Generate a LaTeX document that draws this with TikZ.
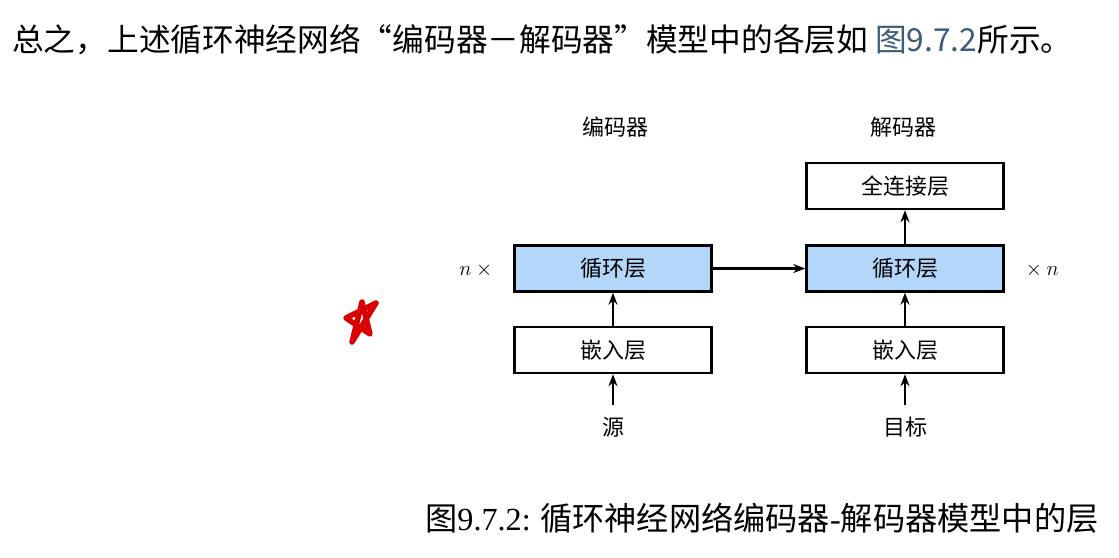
\documentclass[tikz,border=0pt]{standalone}
\usepackage{fontspec}
\setmainfont{Noto Sans CJK SC}
\newfontfamily\tnr{Liberation Serif}
\usetikzlibrary{arrows.meta}
\definecolor{boxblue}{RGB}{178,215,250}
\definecolor{linkblue}{RGB}{62,92,122}
\tikzset{
  layerbox/.style={draw=black, line width=2.4pt, minimum width=197pt, minimum height=46pt, inner sep=0pt, font=\fontsize{22}{26}\selectfont},
  rnnbox/.style={layerbox, fill=boxblue},
  plainbox/.style={layerbox, fill=white},
  lbl/.style={inner sep=0pt, font=\fontsize{22}{26}\selectfont},
  conn/.style={-{Stealth[length=12pt,width=9pt]}, line width=2.2pt},
}
\begin{document}
\begin{tikzpicture}[x=1pt,y=-1pt]
\useasboundingbox[fill=white] (0,0) rectangle (1119,557);
% paragraph text
\node[anchor=west, inner sep=0pt, font=\fontsize{31.7}{36}\selectfont] (para) at (12,40)
  {总之，上述循环神经网络“编码器－解码器”模型中的各层如 {\color{linkblue}图9.7.2}所示。};
% red mark
\draw[red!85!black, line width=5.5pt, line join=round, line cap=round]
  (362,302) -- (352,342) -- (376,303) -- (346,318) -- (370,334) -- cycle;
% labels
\node[lbl] (enclbl) at (615,127) {编码器};
\node[lbl] (declbl) at (903,127) {解码器};
% boxes
\node[rnnbox] (encrnn) at (613,268.5) {循环层};
\node[plainbox] (encemb) at (613,350) {嵌入层};
\node[plainbox] (decfc) at (905,186) {全连接层};
\node[rnnbox] (decrnn) at (905,268.5) {循环层};
\node[plainbox] (decemb) at (905,350) {嵌入层};
% inputs
\node[lbl] (src) at (613,427) {源};
\node[lbl] (tgt) at (905,427) {目标};
\coordinate (srctop) at (613,405);
\coordinate (tgttop) at (905,405);
% n times
\node[inner sep=0pt, font=\fontsize{21}{24}\selectfont] (ntl) at (478,270) {$n\times{}$};
\node[inner sep=0pt, font=\fontsize{21}{24}\selectfont] (ntr) at (1040,270) {${}\times n$};
% connectors
\draw[conn] (srctop) -- (encemb.south);
\draw[conn] (encemb.north) -- (encrnn.south);
\draw[conn] (encrnn.east) -- (decrnn.west);
\draw[conn] (tgttop) -- (decemb.south);
\draw[conn] (decemb.north) -- (decrnn.south);
\draw[conn] (decrnn.north) -- (decfc.south);
% caption
\node[anchor=west, inner sep=0pt, font=\fontsize{32.2}{36}\selectfont] (cap) at (425,518)
  {图{\tnr 9.7.2:} 循环神经网络编码器{\tnr -}解码器模型中的层};
\end{tikzpicture}
\end{document}
